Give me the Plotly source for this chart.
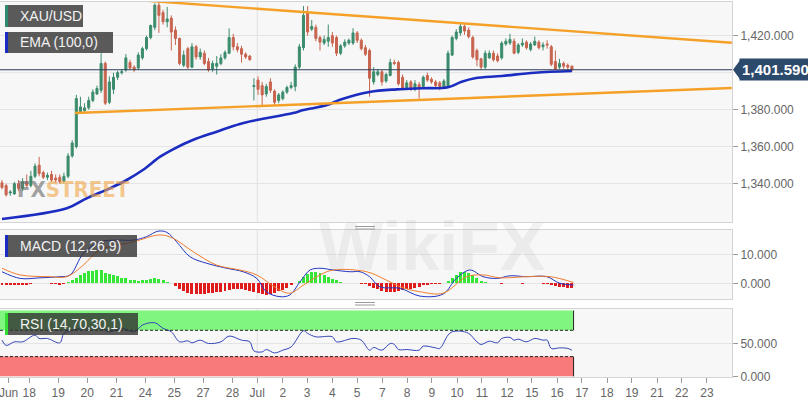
import plotly.graph_objects as go

# ---------------- data (4H candles, index 0 = Jun 17 evening) ----------------
opens = [1340.5, 1339, 1335, 1334.5, 1340, 1337.5, 1341, 1339, 1344, 1350,
         1346, 1343.5, 1345, 1343, 1343.5, 1341.5, 1344, 1355, 1360, 1379,
         1379.5, 1381, 1385, 1388.5, 1390.5, 1405, 1384, 1391, 1397.5, 1400,
         1401.5, 1405.5, 1403, 1402.5, 1408, 1413, 1419, 1424.5, 1436.5, 1432.5,
         1427.5, 1429.5, 1423, 1418.5, 1404, 1413, 1403, 1414, 1408.5, 1410.5,
         1406, 1402, 1403.5, 1405, 1408, 1410.5, 1419, 1414, 1413, 1410,
         1409, 1392.5, 1396, 1393, 1388.5, 1395, 1390, 1385, 1386, 1389.5,
         1392, 1392.5, 1403, 1413.5, 1432, 1423.5, 1424.5, 1419, 1416, 1417,
         1420, 1419, 1410.5, 1414.5, 1416, 1416, 1421.5, 1417.5, 1413.5, 1412,
         1395, 1399, 1400.5, 1395.5, 1398.5, 1405.5, 1405.5, 1397.5, 1392, 1395,
         1391, 1393.5, 1392.5, 1398.5, 1396.5, 1395, 1394.5, 1392, 1392.5, 1409.5,
         1418.5, 1421.5, 1425, 1423, 1419, 1412, 1407.5, 1403, 1408, 1410.5,
         1409, 1408, 1415.5, 1416, 1417, 1411, 1415, 1416.5, 1412.5, 1415,
         1416.5, 1414, 1415.5, 1414, 1406, 1403, 1405, 1404, 1403.5]
highs = [1342, 1340, 1336.5, 1341, 1342, 1343, 1345, 1347, 1351, 1354.5,
         1347, 1346, 1347, 1345, 1345, 1346, 1356.5, 1363.5, 1388, 1387,
         1383.5, 1387, 1391, 1393, 1410.5, 1406, 1398, 1400, 1401, 1402,
         1410, 1407, 1404, 1411, 1414, 1420, 1426, 1437.5, 1438.5, 1434,
         1435.5, 1431, 1425, 1419, 1412, 1414, 1416, 1415, 1413, 1412,
         1408, 1406.5, 1409, 1410, 1412, 1424, 1421, 1416, 1414.5, 1411,
         1409.5, 1397, 1398, 1395, 1394, 1397, 1391, 1389, 1390.5, 1393,
         1395, 1404.5, 1415.5, 1436, 1436, 1428.5, 1426, 1420, 1420, 1426,
         1422, 1420, 1415.5, 1418, 1418.5, 1424, 1422.5, 1418.5, 1415, 1413,
         1403, 1402, 1401.5, 1400, 1407.5, 1407, 1406.5, 1399, 1396, 1396,
         1396, 1395, 1398.5, 1400, 1397.5, 1396, 1395.5, 1396.5, 1412, 1420,
         1423.5, 1427, 1426, 1424.5, 1420, 1413, 1408, 1412, 1412, 1412,
         1410.5, 1417, 1418.5, 1421, 1418.5, 1416, 1418.5, 1417.5, 1416.5, 1419.5,
         1417.5, 1416.5, 1417.5, 1415, 1412, 1407.5, 1406, 1405, 1404]
lows = [1337, 1333, 1333.5, 1334, 1336, 1336, 1338, 1338, 1343, 1344,
        1342.5, 1342, 1341, 1340.5, 1340, 1340.5, 1343, 1354, 1359, 1378.5,
        1378, 1380, 1384, 1388, 1389, 1382.5, 1383, 1388.5, 1396, 1399,
        1400.5, 1401.5, 1400.5, 1401.5, 1407, 1412, 1418, 1423, 1421.5, 1426,
        1424.5, 1412, 1415, 1404, 1403, 1402, 1402.5, 1407, 1407, 1404,
        1400.5, 1400.5, 1399, 1404, 1407, 1410, 1412, 1411, 1405.5, 1407.5,
        1406.5, 1385, 1388, 1382.5, 1387, 1389, 1382, 1383.5, 1385, 1388.5,
        1391, 1390, 1402, 1412, 1420, 1422.5, 1417, 1412, 1415, 1414,
        1414, 1409, 1409.5, 1413.5, 1415, 1415, 1416, 1412, 1409, 1387,
        1393.5, 1398, 1393, 1394.5, 1398, 1404, 1393, 1390.5, 1390.5, 1390,
        1390, 1386, 1391.5, 1395, 1394, 1392, 1390.5, 1391.5, 1392, 1409,
        1417.5, 1420, 1420.5, 1418.5, 1407.5, 1403.5, 1401.5, 1402, 1407.5, 1406,
        1405.5, 1407, 1414.5, 1415, 1410, 1410, 1414, 1412.5, 1411.5, 1414.5,
        1412.5, 1412, 1413, 1403.5, 1401.5, 1402, 1402, 1401.5, 1400.5]
closes = [1338, 1334, 1335.5, 1340, 1337.5, 1341, 1339, 1344, 1349.5, 1345.5,
          1343.5, 1344.5, 1342, 1342, 1341, 1344, 1355, 1362, 1386, 1381.5,
          1381, 1385, 1389.5, 1391.5, 1405, 1383.5, 1395, 1397.5, 1400, 1400.5,
          1408, 1402.5, 1401.5, 1409.5, 1413, 1419, 1425.5, 1436.5, 1431, 1427.5,
          1429, 1422, 1418.5, 1405, 1409.5, 1403, 1414, 1408.5, 1411, 1405,
          1401.5, 1405, 1405, 1408, 1411, 1419, 1414, 1412.5, 1410, 1408.5,
          1407, 1393, 1391, 1388, 1392.5, 1390.5, 1384, 1388, 1389.5, 1392,
          1393, 1403, 1414, 1431, 1422, 1425, 1418.5, 1416.5, 1418, 1419,
          1416, 1410.5, 1414.5, 1416.5, 1417.5, 1421.5, 1417.5, 1413, 1410, 1397,
          1400.5, 1400.5, 1395, 1399, 1405.5, 1405, 1394, 1391.5, 1394.5, 1391,
          1394, 1392, 1397.5, 1396, 1395, 1393, 1392.5, 1395.5, 1410.5, 1419,
          1422, 1425, 1422.5, 1419.5, 1408.5, 1407, 1403, 1410.5, 1410.5, 1407,
          1406.5, 1416, 1417, 1418, 1410.5, 1415, 1416, 1413.5, 1415.5, 1417,
          1413.5, 1415, 1415, 1404.5, 1402, 1405, 1403.5, 1403, 1401.6]
candle_idx = list(range(len(opens)))

# EMA(100) at several candle positions
ema_idx = [0, 15.7, 20.5, 26.1, 30.2, 34.1, 38.3, 41.4, 46.2, 52, 57.6, 61.7,
           70.5, 73, 78.7, 82, 89, 95.6, 102, 108, 111.3, 114.5, 121, 129, 138]
ema_val = [1320.9, 1326.7, 1332.1, 1337.5, 1342.0, 1347.4, 1354.6, 1358.6,
           1363.6, 1368.1, 1372.3, 1374.4, 1378.2, 1379.8, 1382.5, 1385.5,
           1389.6, 1391.0, 1391.6, 1392.1, 1395.1, 1397.0, 1398.2, 1400.0, 1400.9]

# trend lines (candle index, price)
upper_tl_idx = [31.7, 176.7]
upper_tl_val = [1439.4, 1416.2]
lower_tl_idx = [17.7, 176.7]
lower_tl_val = [1378.2, 1391.7]

last_price = 1401.59

# MACD (12,26,9)
macd_idx = [0, 4.4, 9.2, 14, 16.5, 19.7, 23.7, 27.8, 31.8, 35, 37.8, 39.9,
            42.3, 45.5, 49.6, 54.4, 58.4, 61.7, 64, 67.3, 69.7, 72.2, 74.6, 77,
            80.2, 84.3, 86.7, 89, 91.5, 96.4, 101.2, 106.8, 110, 113.3, 116.5,
            119.8, 123, 127, 131.9, 135.1, 138.4]
macd_val = [4.0, 1.7, 1.9, 2.3, 2.9, 10.3, 14.3, 14.9, 14.9, 16.1, 18.0, 17.6,
            14.3, 9.2, 6.9, 5.2, 4.0, 1.7, -2.9, -4.6, -4.0, 0.6, 4.6, 5.2,
            4.6, 4.0, 4.0, 2.3, -1.2, -1.7, -4.4, -3.7, 1.7, 4.6, 2.3,
            1.7, 2.6, 2.3, 2.3, 0.0, -0.6]
signal_idx = [0, 4.4, 11.6, 15.7, 19.7, 23.7, 31.8, 38.3, 41.5, 46.3, 52,
              57.6, 61.7, 66.5, 69.7, 73, 77, 80.2, 88.3, 93.1, 96.4, 101.2,
              106.8, 112.5, 116.5, 120.6, 127, 132.7, 138.4]
signal_val = [5.2, 2.9, 2.3, 2.3, 6.3, 11.5, 14.3, 16.7, 15.5, 10.9, 6.3,
              4.6, 2.9, -1.7, -3.4, -0.6, 2.9, 4.6, 4.0, 1.1, -1.2, -2.9,
              -3.4, 2.3, 2.9, 1.9, 2.3, 2.3, 0.3]
hist_val = [-0.6, -0.7, -0.7, -0.6, -0.6, -0.5, -0.5, -0.2, 0.1, 0.1,
            0.0, 0.0, -0.1, -0.3, -0.4, -0.3, 0.3, 1.0, 2.0, 2.8,
            3.6, 4.1, 4.4, 4.6, 4.5, 3.6, 3.1, 2.8, 2.4, 2.0,
            1.7, 1.3, 1.0, 0.9, 1.0, 1.2, 1.6, 1.8, 1.5, 1.0,
            0.5, 0.1, -0.8, -1.8, -2.6, -3.2, -3.6, -3.8, -3.8, -3.7,
            -3.5, -3.3, -3.1, -2.9, -2.7, -2.4, -2.1, -2.0, -2.0, -2.2,
            -2.6, -3.0, -3.5, -3.8, -3.9, -3.7, -3.3, -2.8, -2.2, -1.5,
            -0.7, 0.2, 0.9, 2.3, 3.2, 3.8, 4.0, 3.7, 3.0, 2.3,
            1.6, 1.0, 0.4, 0.1, 0.1, 0.2, 0.1, -0.1, -0.3, -0.9,
            -1.5, -2.0, -2.5, -2.9, -3.1, -2.9, -2.6, -2.2, -2.0, -1.8,
            -1.5, -1.1, -0.7, -0.4, -0.2, -0.1, -0.1, 0.1, 0.8, 2.0,
            3.0, 3.8, 4.0, 3.6, 2.8, 1.9, 0.9, 0.4, 0.2, 0.1,
            0.0, -0.1, 0.0, 0.1, 0.1, 0.0, -0.1, 0.0, 0.1, 0.1,
            0.0, -0.1, -0.2, -0.5, -0.9, -1.2, -1.4, -1.5, -1.5]

# RSI (14,70,30,1)
rsi_idx = [0, 1, 3, 5, 8, 9, 11, 14, 15, 17, 20, 24, 26, 29, 32, 34, 37, 39,
           41, 43, 45, 46, 48, 50, 53, 55, 58, 60, 61, 63, 64, 66, 68, 70, 73,
           74, 76, 80, 81, 85, 87, 89, 90, 92, 94, 95, 96, 98, 101, 102, 105,
           106, 108, 109, 111, 113, 115, 116, 118, 120, 121, 123, 124, 125,
           127, 129, 131, 132, 133, 135, 137, 138]
rsi_val = [55, 47, 52.5, 52.5, 62.7, 57.6, 57.6, 51, 65.3, 70.3, 73, 73, 67.7,
           73, 67.7, 78, 81.5, 73, 67.7, 52.5, 54, 51, 55, 50, 52.5, 61.2, 55,
           52.5, 38.7, 37.2, 40.8, 35.6, 39.8, 44.8, 69.3, 65.3, 60.1, 60.1,
           52.5, 57.6, 55, 39.8, 43.9, 39.8, 50, 48.5, 40.8, 40.8, 39.8, 45.9,
           43.3, 42.4, 62.7, 67.7, 68.8, 65.3, 52.5, 48.5, 53.5, 51, 57.6, 59.2,
           55, 56.6, 52.5, 57.6, 55, 55, 42.4, 43.3, 42.4, 39.8]
rsi_upper, rsi_lower = 70, 30

# x-axis labels (candle-index positions)
tick_pos = [1.6, 6.6, 13.6, 20.65, 27.7, 34.7, 41.7, 48.7, 55.8, 61.8, 68.0,
            73.9, 80.0, 86.0, 92.1, 98.1, 104.1, 110.2, 116.2, 122.3, 128.3,
            134.4, 140.4, 146.5, 152.5, 158.6, 164.6, 170.7]
tick_text = ["Jun", "18", "19", "20", "21", "24", "25", "27", "28", "Jul", "2",
             "3", "4", "5", "7", "8", "9", "10", "11", "12", "15", "16", "17",
             "18", "19", "21", "22", "23"]

# ---------------- layout geometry ----------------
W, H = 808, 403
ML, MR, MT, MB = 0, 76, 2, 26
PW, PH = W - ML - MR, H - MT - MB
XR = [-0.48, 176.76]
MAIN_R = [1319.3, 1438.2]
MACD_R = [-5.4, 18.4]
RSI_R = [-1.0, 102.4]


def px(x):
    return x / PW


def py(y):
    return (MT + PH - y) / PH


FONT = "Liberation Sans, Arial, sans-serif"
GREEN_C = "#3b8c6c"
RED_C = "#c8644f"
TICKF = dict(family=FONT, size=12, color="#666666")

fig = go.Figure()

fig.add_trace(go.Candlestick(
    x=candle_idx, open=opens, high=highs, low=lows, close=closes,
    increasing=dict(line=dict(color=GREEN_C, width=1), fillcolor=GREEN_C),
    decreasing=dict(line=dict(color=RED_C, width=1), fillcolor=RED_C),
    whiskerwidth=0, xaxis="x", yaxis="y", showlegend=False, hoverinfo="skip"))

fig.add_trace(go.Scatter(x=ema_idx, y=ema_val, mode="lines",
                         line=dict(color="#1b2cc0", width=2.6, shape="spline"),
                         xaxis="x", yaxis="y", hoverinfo="skip"))
fig.add_trace(go.Scatter(x=upper_tl_idx, y=upper_tl_val, mode="lines",
                         line=dict(color="#f5a027", width=2.4),
                         xaxis="x", yaxis="y", hoverinfo="skip"))
fig.add_trace(go.Scatter(x=lower_tl_idx, y=lower_tl_val, mode="lines",
                         line=dict(color="#f5a027", width=2.4),
                         xaxis="x", yaxis="y", hoverinfo="skip"))

hist_colors = ["#35e635" if v >= 0 else "#e01b1b" for v in hist_val]
fig.add_trace(go.Bar(x=candle_idx, y=hist_val, marker=dict(color=hist_colors, line=dict(width=0)),
                     width=0.72, xaxis="x2", yaxis="y2", hoverinfo="skip"))
fig.add_trace(go.Scatter(x=macd_idx, y=macd_val, mode="lines",
                         line=dict(color="#2437c4", width=1, shape="spline"),
                         xaxis="x2", yaxis="y2", hoverinfo="skip"))
fig.add_trace(go.Scatter(x=signal_idx, y=signal_val, mode="lines",
                         line=dict(color="#ef7d2e", width=1, shape="spline"),
                         xaxis="x2", yaxis="y2", hoverinfo="skip"))

band_end = candle_idx[-1] + 0.4
shapes = []
# RSI bands
shapes.append(dict(type="rect", xref="x3", yref="y3", x0=XR[0], x1=band_end,
                   y0=rsi_upper, y1=100, fillcolor="#80f580", line=dict(width=0), layer="below"))
shapes.append(dict(type="rect", xref="x3", yref="y3", x0=XR[0], x1=band_end,
                   y0=0, y1=rsi_lower, fillcolor="#f87a7a", line=dict(width=0), layer="below"))
for lvl in (rsi_upper, rsi_lower):
    shapes.append(dict(type="line", xref="x3", yref="y3", x0=XR[0], x1=band_end,
                       y0=lvl, y1=lvl, line=dict(color="#222222", width=1, dash="3px,2px")))
shapes.append(dict(type="line", xref="x3", yref="y3", x0=band_end, x1=band_end,
                   y0=rsi_upper, y1=100, line=dict(color="#222222", width=1)))
shapes.append(dict(type="line", xref="x3", yref="y3", x0=band_end, x1=band_end,
                   y0=0, y1=rsi_lower, line=dict(color="#222222", width=1)))

fig.add_trace(go.Scatter(x=rsi_idx, y=rsi_val, mode="lines",
                         line=dict(color="#3443b8", width=1, shape="spline"),
                         xaxis="x3", yaxis="y3", hoverinfo="skip"))

# month separator (Jul)
jul_pos = tick_pos[tick_text.index("Jul")]
for xr, yr in (("x", "y domain"), ("x2", "y2 domain"), ("x3", "y3 domain")):
    shapes.append(dict(type="line", xref=xr, yref=yr, x0=jul_pos, x1=jul_pos, y0=0, y1=1,
                       line=dict(color="#e1e1e1", width=1), layer="below"))

# 1,400 grid line (its label is hidden under the price tag)
shapes.append(dict(type="line", xref="x domain", yref="y", x0=0, x1=1, y0=1400, y1=1400,
                   line=dict(color="#e4e4e4", width=1), layer="below"))

# last price horizontal line
shapes.append(dict(type="line", xref="x domain", yref="y", x0=0, x1=1,
                   y0=last_price, y1=last_price, line=dict(color="#2b3d58", width=1.2)))

# price tag arrow
ppp = (MAIN_R[1] - MAIN_R[0]) / (222 - MT)
shapes.append(dict(type="path", xref="paper", yref="y",
                   path=f"M {1 + px(1)},{last_price} L {1 + px(8)},{last_price + 9.5 * ppp} "
                        f"L {1 + px(8)},{last_price - 9.5 * ppp} Z",
                   fillcolor="#2c4a6c", line=dict(width=0)))

# pane drag handles
for yy in (226.5, 229.0, 302.5, 305.0):
    shapes.append(dict(type="line", xref="paper", yref="paper", x0=px(355), x1=px(375),
                       y0=py(yy), y1=py(yy), line=dict(color="#9a9a9a", width=1)))

# legend label boxes
labels = [("XAU/USD", 5, 83, 5, 27, "#2f8a72"),
          ("EMA (100,0)", 5, 113, 32, 53, "#1b2cc0"),
          ("MACD (12,26,9)", 5, 137, 235, 257, "#1b2cc0"),
          ("RSI (14,70,30,1)", 5, 138, 313, 335, "#33dd33")]
annotations = []
for text, x0, x1, y0, y1, bar in labels:
    shapes.append(dict(type="rect", xref="paper", yref="paper", x0=px(x0), x1=px(x1),
                       y0=py(y1), y1=py(y0), fillcolor="rgba(50,50,50,0.8)", line=dict(width=0)))
    shapes.append(dict(type="rect", xref="paper", yref="paper", x0=px(x0), x1=px(x0 + 3),
                       y0=py(y1), y1=py(y0), fillcolor=bar, line=dict(width=0)))
    annotations.append(dict(text=text, xref="paper", yref="paper", x=px(18), y=py((y0 + y1) / 2),
                            xanchor="left", yanchor="middle", showarrow=False,
                            font=dict(family=FONT, size=14, color="#f2f2f2")))

# watermarks
annotations.append(dict(text="WikiFX", xref="paper", yref="paper", x=px(432), y=py(246),
                        xanchor="center", yanchor="middle", showarrow=False,
                        font=dict(family=FONT, size=68, color="rgba(150,150,150,0.12)", weight="bold")))
annotations.append(dict(text='<span style="color:rgba(110,110,110,0.65);font-stretch:condensed">FX</span>'
                             '<span style="color:rgba(240,165,70,0.6);font-stretch:condensed">STREET</span>',
                        xref="paper", yref="paper", x=px(15), y=py(189),
                        xanchor="left", yanchor="middle", showarrow=False,
                        font=dict(family="DejaVu Sans Condensed, DejaVu Sans, sans-serif",
                                  size=22, weight="bold")))

# price tag
annotations.append(dict(text="<b>1,401.590</b>", xref="paper", yref="y", x=1, y=last_price,
                        xanchor="left", yanchor="middle", xshift=7, showarrow=False,
                        bgcolor="#2c4a6c", borderpad=2,
                        font=dict(family=FONT, size=15, color="#ffffff")))

axis_common = dict(showgrid=False, zeroline=False, showline=True, mirror=True,
                   linecolor="#d4d4d4", linewidth=1, range=XR, fixedrange=True)
yaxis_common = dict(side="right", showgrid=True, gridcolor="#e4e4e4", zeroline=False,
                    showline=True, mirror=True, linecolor="#d4d4d4", ticks="outside",
                    ticklen=5, tickcolor="#999999", tickfont=TICKF, tickformat=",.3f",
                    fixedrange=True)

fig.update_layout(
    width=W, height=H, margin=dict(l=ML, r=MR, t=MT, b=MB, autoexpand=False),
    paper_bgcolor="#ffffff", plot_bgcolor="#f7f7f7", showlegend=False,
    bargap=0,
    xaxis=dict(axis_common, anchor="y", domain=[0, 1], showticklabels=False,
               rangeslider=dict(visible=False)),
    xaxis2=dict(axis_common, anchor="y2", domain=[0, 1], showticklabels=False),
    xaxis3=dict(axis_common, anchor="y3", domain=[0, 1], tickmode="array",
                tickvals=tick_pos, ticktext=tick_text, ticks="outside", ticklen=5,
                tickcolor="#999999", tickfont=TICKF, ticklabeloverflow="allow"),
    yaxis=dict(yaxis_common, anchor="x", domain=[py(222), py(MT)], range=MAIN_R,
               tickvals=[1340, 1360, 1380, 1420]),
    yaxis2=dict(yaxis_common, anchor="x2", domain=[py(299), py(230)], range=MACD_R,
                tickvals=[0, 10]),
    yaxis3=dict(yaxis_common, anchor="x3", domain=[py(377), py(309)], range=RSI_R,
                tickvals=[0, 50]),
    shapes=shapes, annotations=annotations,
)

fig.write_html("out.html", config={"displayModeBar": False, "staticPlot": True},
               post_script="document.body.style.margin='0';document.body.style.padding='0';")
